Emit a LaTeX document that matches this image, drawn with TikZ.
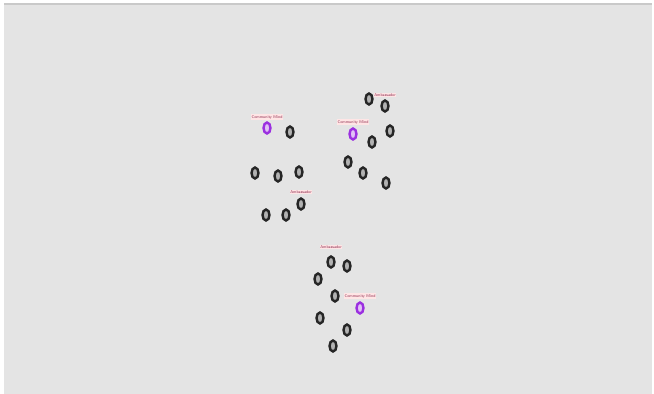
\documentclass[tikz,border=0pt]{standalone}
\usetikzlibrary{shapes.geometric}
\definecolor{bgpanel}{HTML}{E4E4E4}
\definecolor{bgedge}{HTML}{C9C9C9}
\definecolor{ringpurple}{HTML}{9B30E0}
\definecolor{labelred}{HTML}{8E2A4E}
\tikzset{
  agent/.style={ellipse, draw=black!85, line width=2.4pt, fill=black!30, inner sep=0pt, minimum width=7pt, minimum height=11pt},
  mind/.style={ellipse, draw=ringpurple, line width=2.4pt, fill=ringpurple!30, inner sep=0pt, minimum width=7pt, minimum height=11pt},
  tag/.style={font=\sffamily\fontsize{4}{4.5}\selectfont, text=labelred, fill=pink!40, inner sep=0.7pt}
}
\begin{document}
\begin{tikzpicture}[x=1pt,y=-1pt]
\useasboundingbox (0,0) rectangle (654,394);
\fill[white] (0,0) rectangle (654,394);
\fill[bgpanel] (4,4) rectangle (652,394);
\fill[bgedge] (4,3) rectangle (652,5);
% cluster 1
\node[mind] (m1) at (267,128) {};
\node[tag] (m1l) at (267,117) {Community Mind};
\node[agent] (a1) at (290,132) {};
\node[agent] (a2) at (255,173) {};
\node[agent] (a3) at (278,176) {};
\node[agent] (a4) at (299,172) {};
\node[agent] (a5) at (301,204) {};
\node[tag] (a5l) at (301,192) {Ambassador};
\node[agent] (a6) at (266,215) {};
\node[agent] (a7) at (286,215) {};
% cluster 2
\node[agent] (b1) at (369,99) {};
\node[agent] (b2) at (385,106) {};
\node[tag] (b2l) at (385,95) {Ambassador};
\node[mind] (m2) at (353,134) {};
\node[tag] (m2l) at (353,122) {Community Mind};
\node[agent] (b3) at (372,142) {};
\node[agent] (b4) at (390,131) {};
\node[agent] (b5) at (348,162) {};
\node[agent] (b6) at (363,173) {};
\node[agent] (b7) at (386,183) {};
% cluster 3
\node[tag] (c1l) at (331,247) {Ambassador};
\node[agent] (c1) at (331,262) {};
\node[agent] (c2) at (347,266) {};
\node[agent] (c3) at (318,279) {};
\node[agent] (c4) at (335,296) {};
\node[mind] (m3) at (360,308) {};
\node[tag] (m3l) at (360,296) {Community Mind};
\node[agent] (c5) at (320,318) {};
\node[agent] (c6) at (347,330) {};
\node[agent] (c7) at (333,346) {};
\end{tikzpicture}
\end{document}
